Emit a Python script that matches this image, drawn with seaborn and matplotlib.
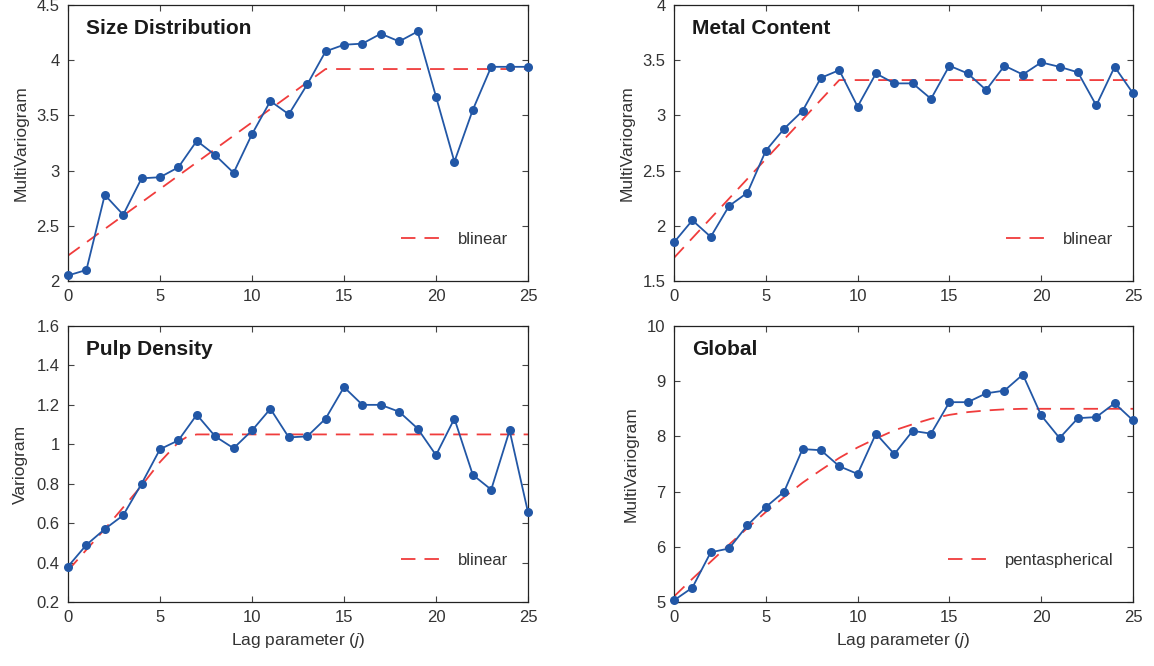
"""Variogram panels: experimental multivariograms with fitted models."""

import matplotlib.pyplot as plt
import numpy as np
import pandas as pd
import seaborn as sns
from matplotlib.ticker import FormatStrFormatter, MultipleLocator

lags = list(range(26))

size_dist = [2.05, 2.10, 2.78, 2.60, 2.93, 2.94, 3.03, 3.27, 3.14, 2.98, 3.33, 3.63, 3.51,
             3.78, 4.08, 4.14, 4.15, 4.24, 4.17, 4.26, 3.67, 3.08, 3.55, 3.94, 3.94, 3.94]
size_model_lag = [0, 14, 25]
size_model = [2.23, 3.92, 3.92]

metal = [1.85, 2.05, 1.90, 2.18, 2.30, 2.68, 2.88, 3.04, 3.34, 3.41, 3.08, 3.38, 3.29,
         3.29, 3.15, 3.45, 3.38, 3.23, 3.45, 3.37, 3.48, 3.44, 3.39, 3.09, 3.44, 3.20]
metal_model_lag = [0, 9, 25]
metal_model = [1.71, 3.32, 3.32]

pulp = [0.38, 0.49, 0.57, 0.64, 0.80, 0.975, 1.02, 1.15, 1.04, 0.98, 1.07, 1.18, 1.035,
        1.04, 1.13, 1.29, 1.20, 1.20, 1.165, 1.08, 0.945, 1.13, 0.845, 0.77, 1.07, 0.655]
pulp_model_lag = [0, 1, 2, 3, 4, 5, 6, 6.5, 7, 25]
pulp_model = [0.36, 0.465, 0.57, 0.68, 0.79, 0.91, 1.01, 1.04, 1.05, 1.05]

global_vals = [5.03, 5.26, 5.90, 5.97, 6.39, 6.72, 7.00, 7.77, 7.75, 7.46, 7.32, 8.05, 7.68,
               8.10, 8.05, 8.62, 8.62, 8.78, 8.83, 9.12, 8.38, 7.97, 8.33, 8.35, 8.60, 8.29]
global_model_lag = list(range(21)) + [25]
global_model = [5.10, 5.42, 5.73, 6.04, 6.34, 6.63, 6.90, 7.16, 7.39, 7.61, 7.80, 7.96,
                8.11, 8.22, 8.32, 8.39, 8.44, 8.47, 8.49, 8.50, 8.50, 8.50]

sns.set_theme(style="ticks")
plt.rcParams["font.family"] = ["Liberation Sans", "DejaVu Sans"]
plt.rcParams["mathtext.fontset"] = "custom"
plt.rcParams["mathtext.it"] = "Liberation Sans:italic"
plt.rcParams["mathtext.rm"] = "Liberation Sans"

BLUE = "#2257a6"
RED = "#f03c3c"
TEXT = "#333333"

panels = [
    # title, values, model lags, model values, model name, ylabel, ylim, ystep, box (px)
    ("Size Distribution", size_dist, size_model_lag, size_model, "blinear",
     "MultiVariogram", (2, 4.5), 0.5, [68, 5, 528, 281]),
    ("Metal Content", metal, metal_model_lag, metal_model, "blinear",
     "MultiVariogram", (1.5, 4), 0.5, [674, 5, 1133, 281]),
    ("Pulp Density", pulp, pulp_model_lag, pulp_model, "blinear",
     "Variogram", (0.2, 1.6), 0.2, [68, 326, 528, 602]),
    ("Global", global_vals, global_model_lag, global_model, "pentaspherical",
     "MultiVariogram", (5, 10), 1, [674, 326, 1133, 602]),
]

W, H = 1154, 666
fig = plt.figure(figsize=(W / 100, H / 100), dpi=100)

for i, (title, vals, mlag, mvals, mname, ylabel, ylim, ystep, box) in enumerate(panels):
    x0, y0, x1, y1 = box
    ax = fig.add_axes([x0 / W, 1 - y1 / H, (x1 - x0) / W, (y1 - y0) / H])

    exp = pd.DataFrame({"lag": lags, "value": vals})
    mod = pd.DataFrame({"lag": mlag, "value": mvals})
    sns.lineplot(data=mod, x="lag", y="value", ax=ax, color=RED, lw=1.3,
                 linestyle=(0, (8, 5)), label=mname, zorder=2)
    sns.lineplot(data=exp, x="lag", y="value", ax=ax, color=BLUE, lw=1.3,
                 marker="o", markersize=6.5, markeredgewidth=0, zorder=3,
                 clip_on=False)

    ax.set_xlim(0, 25)
    ax.set_ylim(*ylim)
    ax.xaxis.set_major_locator(MultipleLocator(5))
    ax.yaxis.set_major_locator(MultipleLocator(ystep))
    ax.yaxis.set_major_formatter(FormatStrFormatter("%g"))
    ax.tick_params(direction="in", top=True, right=True, length=4, width=0.8,
                   labelsize=12, labelcolor=TEXT, color="#444444", pad=6)
    for spine in ax.spines.values():
        spine.set_visible(True)
        spine.set_linewidth(0.9)
        spine.set_color("#222222")

    ax.set_ylabel(ylabel, fontsize=12.5, color=TEXT, labelpad=6)
    if i >= 2:
        ax.set_xlabel(r"Lag parameter ($\mathit{j}$)", fontsize=12.5, color=TEXT, labelpad=4)
    else:
        ax.set_xlabel("")

    ax.text(0.04, 0.915, title, transform=ax.transAxes, fontsize=15,
            fontweight="bold", color="#1a1a1a", va="center", ha="left")

    ax.legend(loc="lower right", frameon=False, fontsize=12,
              handlelength=2.6, bbox_to_anchor=(0.99, 0.07), labelcolor=TEXT)

fig.savefig("out.png", dpi=100)
plt.close(fig)
